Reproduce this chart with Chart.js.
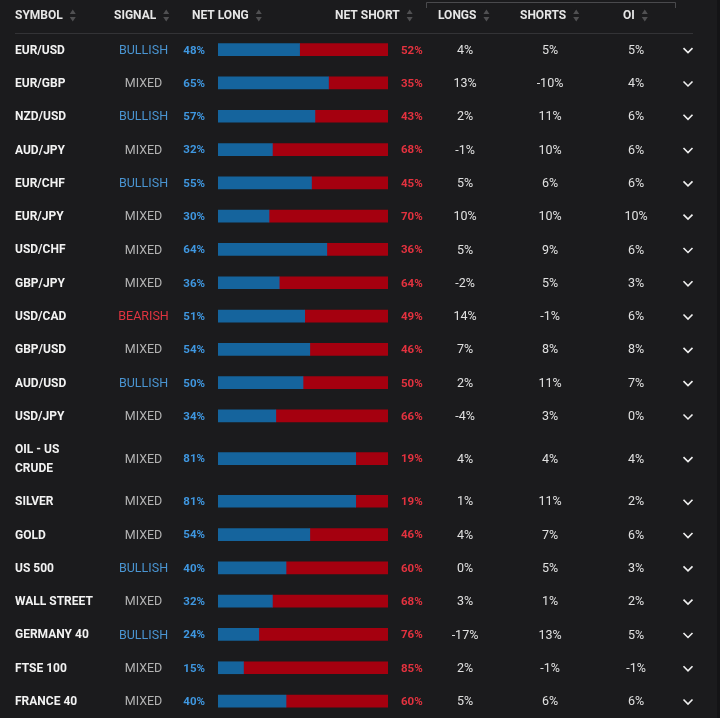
<!DOCTYPE html>
<html>
<head>
<meta charset="utf-8">
<script src="https://cdn.jsdelivr.net/npm/chart.js@4.4.1/dist/chart.umd.min.js"></script>
<style>
    html, body { margin: 0; padding: 0; background: #1b1b1d; }
    #wrap { position: relative; width: 720px; height: 718px; }
</style>
</head>
<body>
<div id="wrap"><canvas id="sentimentChart"></canvas></div>
<script>
// ── Data ─────────────────────────────────────────────────────────────────────
const symbols = [
    ['EUR/USD'], ['EUR/GBP'], ['NZD/USD'], ['AUD/JPY'], ['EUR/CHF'], ['EUR/JPY'],
    ['USD/CHF'], ['GBP/JPY'], ['USD/CAD'], ['GBP/USD'], ['AUD/USD'], ['USD/JPY'],
    ['OIL - US', 'CRUDE'], ['SILVER'], ['GOLD'], ['US 500'], ['WALL STREET'],
    ['GERMANY 40'], ['FTSE 100'], ['FRANCE 40']
];
const signals = [
    'BULLISH', 'MIXED', 'BULLISH', 'MIXED', 'BULLISH', 'MIXED', 'MIXED', 'MIXED',
    'BEARISH', 'MIXED', 'BULLISH', 'MIXED', 'MIXED', 'MIXED', 'MIXED', 'BULLISH',
    'MIXED', 'BULLISH', 'MIXED', 'MIXED'
];
const netLong  = [48, 65, 57, 32, 55, 30, 64, 36, 51, 54, 50, 34, 81, 81, 54, 40, 32, 24, 15, 40];
const netShort = [52, 35, 43, 68, 45, 70, 36, 64, 49, 46, 50, 66, 19, 19, 46, 60, 68, 76, 85, 60];
const longsChg  = [4, 13, 2, -1, 5, 10, 5, -2, 14, 7, 2, -4, 4, 1, 4, 0, 3, -17, 2, 5];
const shortsChg = [5, -10, 11, 10, 6, 10, 9, 5, -1, 8, 11, 3, 4, 11, 7, 5, 1, 13, -1, 6];
const oiChg     = [5, 4, 6, 6, 6, 10, 6, 3, 6, 8, 7, 0, 4, 2, 6, 3, 2, 5, -1, 6];
const headers = ['SYMBOL', 'SIGNAL', 'NET LONG', 'NET SHORT', 'LONGS', 'SHORTS', 'OI'];

// ── Layout ───────────────────────────────────────────────────────────────────
const W = 720, H = 718;
const HEADER_H = 33;
const ROW_H = 33.3;
const EXTRA_LINE_H = 18.7;
const BAR_LEFT = 218, BAR_RIGHT = 388;
const TEXT_DY = 1; // canvas 'middle' baseline sits a touch high

// row centres in the chart's y units (1 unit = 1 px)
const rowCenters = [];
let cursor = HEADER_H;
symbols.forEach(lines => {
    const h = ROW_H + (lines.length - 1) * EXTRA_LINE_H;
    rowCenters.push(cursor + h / 2);
    cursor += h;
});

const COLORS = {
    bg: '#1b1b1d',
    longBar: '#15649d',
    shortBar: '#a5000f',
    longText: '#3f97e0',
    shortText: '#e4323f',
    bullish: '#4a95d2',
    bearish: '#e03440',
    mixed: '#b3b3b3',
    symbol: '#f2f2f2',
    header: '#e6e6e6',
    value: '#e0e0e0',
    arrow: '#505052',
    rule: '#333336'
};
const FONT = 'Roboto, "Noto Sans", sans-serif';

// ── Text / table plugin ──────────────────────────────────────────────────────
const tablePlugin = {
    id: 'tableText',
    beforeDraw(chart) {
        const c = chart.ctx;
        c.save();
        c.fillStyle = COLORS.bg;
        c.fillRect(0, 0, W, H);
        c.fillStyle = '#141416';
        c.fillRect(717, 0, 3, H);
        c.restore();
    },
    afterDraw(chart) {
        const c = chart.ctx;
        const yScale = chart.scales.y;
        c.save();

        // header
        const hx = [15, 114, 192, 335, 438, 520, 623];
        c.font = `bold 12px ${FONT}`;
        c.textBaseline = 'middle';
        c.textAlign = 'left';
        headers.forEach((t, i) => {
            c.fillStyle = COLORS.header;
            c.fillText(t, hx[i], 15.5);
            const ax = hx[i] + c.measureText(t).width + 10;
            c.fillStyle = COLORS.arrow;
            c.beginPath();
            c.moveTo(ax - 3, 14); c.lineTo(ax + 3, 14); c.lineTo(ax, 9.5); c.closePath();
            c.fill();
            c.beginPath();
            c.moveTo(ax - 3, 17); c.lineTo(ax + 3, 17); c.lineTo(ax, 21.5); c.closePath();
            c.fill();
        });

        // bracket over LONGS / SHORTS / OI
        c.strokeStyle = '#4a4a4d';
        c.lineWidth = 1;
        c.beginPath();
        c.moveTo(426.5, 8); c.lineTo(426.5, 2.5); c.lineTo(675.5, 2.5); c.lineTo(675.5, 8);
        c.stroke();

        // header rule
        c.strokeStyle = COLORS.rule;
        c.beginPath();
        c.moveTo(15, 33.5); c.lineTo(693, 33.5);
        c.stroke();

        rowCenters.forEach((val, i) => {
            const yb = yScale.getPixelForValue(val);
            const y = yb + TEXT_DY;

            // symbol
            c.font = `bold 12px ${FONT}`;
            c.textAlign = 'left';
            c.fillStyle = COLORS.symbol;
            const lines = symbols[i];
            lines.forEach((ln, k) => {
                c.fillText(ln, 15, y + (k - (lines.length - 1) / 2) * EXTRA_LINE_H);
            });

            // signal
            c.font = `12.5px ${FONT}`;
            c.textAlign = 'center';
            const s = signals[i];
            c.fillStyle = s === 'BULLISH' ? COLORS.bullish : s === 'BEARISH' ? COLORS.bearish : COLORS.mixed;
            c.fillText(s, 143.5, y);

            // percentages
            c.font = `bold 11.5px ${FONT}`;
            c.textAlign = 'right';
            c.fillStyle = COLORS.longText;
            c.fillText(netLong[i] + '%', 205, y);
            c.textAlign = 'left';
            c.fillStyle = COLORS.shortText;
            c.fillText(netShort[i] + '%', 401, y);

            // change columns
            c.font = `12.5px ${FONT}`;
            c.textAlign = 'center';
            c.fillStyle = COLORS.value;
            c.fillText(longsChg[i] + '%', 465, y);
            c.fillText(shortsChg[i] + '%', 550, y);
            c.fillText(oiChg[i] + '%', 636, y);

            // chevron
            c.strokeStyle = '#f0f0f0';
            c.lineWidth = 1.6;
            c.beginPath();
            c.moveTo(683.5, yb - 1.5); c.lineTo(688, yb + 3); c.lineTo(692.5, yb - 1.5);
            c.stroke();
        });

        c.restore();
    }
};

// ── Chart ────────────────────────────────────────────────────────────────────
const ctx = document.getElementById('sentimentChart').getContext('2d');
const chart = new Chart(ctx, {
    type: 'bar',
    data: {
        datasets: [
            {
                label: 'Net long',
                backgroundColor: COLORS.longBar,
                data: netLong.map((v, i) => ({ x: [0, v], y: rowCenters[i] })),
                barThickness: 12,
                grouped: false
            },
            {
                label: 'Net short',
                backgroundColor: COLORS.shortBar,
                data: netShort.map((v, i) => ({ x: [netLong[i], netLong[i] + v], y: rowCenters[i] })),
                barThickness: 12,
                grouped: false
            }
        ]
    },
    options: {
        indexAxis: 'y',
        responsive: true,
        maintainAspectRatio: false,
        animation: false,
        events: [],
        layout: { padding: { left: BAR_LEFT, right: W - BAR_RIGHT, top: 0, bottom: 0 } },
        plugins: { legend: { display: false }, tooltip: { enabled: false } },
        scales: {
            x: { type: 'linear', min: 0, max: 100, display: false },
            y: { type: 'linear', min: 0, max: H, reverse: true, offset: false, display: false }
        }
    },
    plugins: [tablePlugin]
});
</script>
</body>
</html>
